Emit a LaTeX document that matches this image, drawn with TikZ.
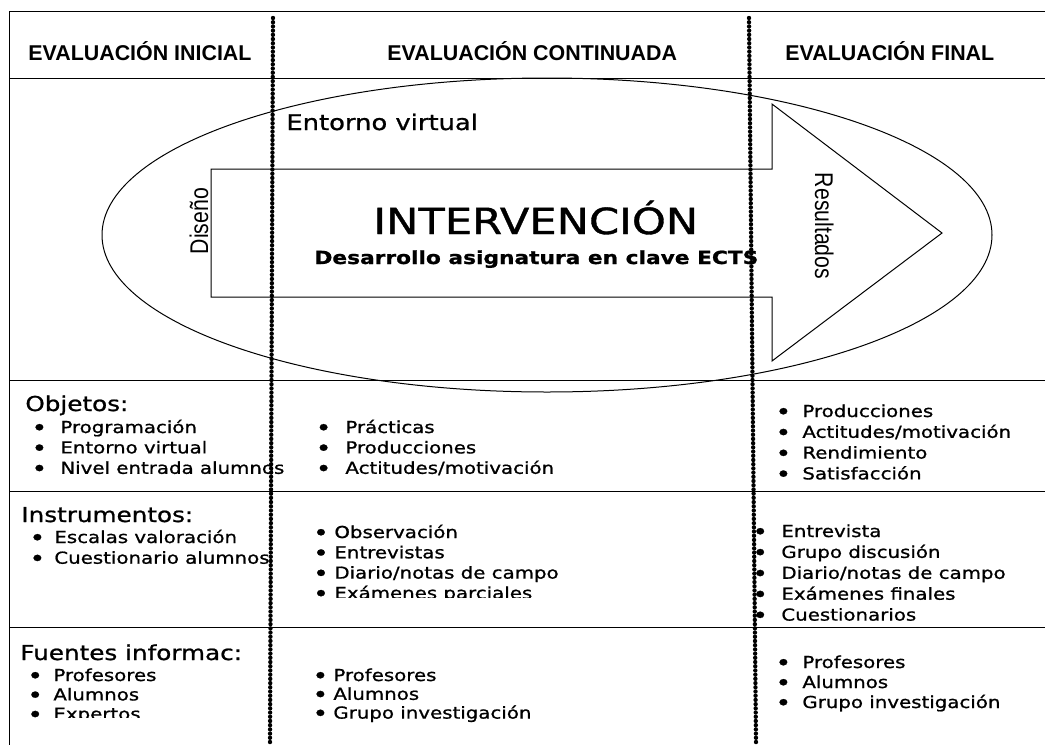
\documentclass[tikz,border=0pt]{standalone}
\usepackage{fontspec}
\setmainfont{DejaVu Sans}
\newfontfamily\vfont[FakeStretch=1.2, FakeBold=1]{DejaVu Sans}
\newfontfamily\hfont{Liberation Sans}
\newfontfamily\rfont[FakeStretch=0.83]{Liberation Sans}
\newcommand\bul[1]{\llap{\raisebox{-1.2pt}{\fontsize{11}{11}\selectfont\textbullet}\hspace{#1}}}
\usetikzlibrary{%
  positioning
}
\tikzset{
  rule/.style = {line width = 0.5pt},
  head/.style = {anchor = base west, inner sep = 0, font = \hfont\bfseries\fontsize{10.7}{13}\selectfont},
  title/.style = {anchor = base west, inner sep = 0, font = \vfont\fontsize{10.27}{12}\selectfont},
  item/.style = {anchor = base west, inner sep = 0, font = \vfont\fontsize{8.24}{10}\selectfont},
  side/.style = {anchor = base, inner sep = 0, font = \rfont\fontsize{12.8}{15}\selectfont}
}

\begin{document}
\begin{tikzpicture}[x = 0.5pt, y = -0.5pt]
  \useasboundingbox (0,0) rectangle (1045,745);

  % table rules
  \draw[rule] (1045,11) -- (9,11) -- (9,745);
  \foreach \y in {78,380,491,627}
    \draw[rule] (9,\y) -- (1045,\y);

  \node[head] (ini) at (28,60) {EVALUACIÓN INICIAL};
  \node[head] (cont) at (387,60) {EVALUACIÓN CONTINUADA};
  \node[head] (fin) at (785,60) {EVALUACIÓN FINAL};

  % entorno + arrow
  \draw[rule] (547,235) ellipse [x radius = 445, y radius = 157];
  \draw[rule] (211,169) -- (772,169) -- (772,104) -- (942,233)
    -- (772,361) -- (772,297) -- (211,297) -- cycle;
  \node[anchor = base west, inner sep = 0, font = \vfont\fontsize{10.75}{13}\selectfont]
    (entorno) at (286,130) {Entorno virtual};
  \node[anchor = base west, inner sep = 0, font = \vfont\fontsize{18}{22}\selectfont]
    (interv) at (373,234) {INTERVENCIÓN};
  \node[anchor = base west, inner sep = 0, font = \vfont\bfseries\fontsize{9.05}{11}\selectfont]
    (ects) at (314,264) {Desarrollo asignatura en clave ECTS};
  \node[side, rotate = 90] (diseno) at (208,221) {Diseño};
  \node[side, rotate = -90] (result) at (815,226) {Resultados};

  % objetos
  \node[title] (obj) at (25,411) {Objetos:};
  \foreach \t [count=\i from 0] in {Programación, Entorno virtual, Nivel entrada alumnos}
    \node[item] (obj-ini-\i) at (60,433+20.4*\i) {\bul{6.6pt}\t};
  \foreach \t [count=\i from 0] in {Prácticas, Producciones, Actitudes/motivación}
    \node[item] (obj-cont-\i) at (345,433+20.4*\i) {\bul{7pt}\t};
  \foreach \t [count=\i from 0] in {Producciones, Actitudes/motivación, Rendimiento, Satisfacción}
    \node[item] (obj-fin-\i) at (802,417+20.8*\i) {\bul{5.6pt}\t};

  % instrumentos
  \node[title] (ins) at (21,522) {Instrumentos:};
  \foreach \t [count=\i from 0] in {Escalas valoración, Cuestionario alumnos}
    \node[item] (ins-ini-\i) at (54,543+20.7*\i) {\bul{4.6pt}\t};
  \begin{scope}
    \clip (280,492) rectangle (745,597);
    \foreach \t [count=\i from 0] in {Observación, Entrevistas, Diario/notas de campo, Exámenes parciales}
      \node[item] (ins-cont-\i) at (334,538+20.3*\i) {\bul{2.8pt}\t};
  \end{scope}
  \begin{scope}
    \clip (752,492) rectangle (1045,621);
    \foreach \t [count=\i from 0] in {Entrevista, Grupo discusión, Diario/notas de campo, Exámenes finales, Cuestionarios}
      \node[item] (ins-fin-\i) at (781,537+20.9*\i) {\bul{6.7pt}\t};
  \end{scope}

  % fuentes
  \node[title] (fue) at (20,660) {Fuentes informac:};
  \begin{scope}
    \clip (10,628) rectangle (268,717);
    \foreach \t [count=\i from 0] in {Profesores, Alumnos, Expertos}
      \node[item] (fue-ini-\i) at (53,681+19.4*\i) {\bul{5.2pt}\t};
  \end{scope}
  \foreach \t [count=\i from 0] in {Profesores, Alumnos, Grupo investigación}
    \node[item] (fue-cont-\i) at (333,681+18.8*\i) {\bul{2.6pt}\t};
  \foreach \t [count=\i from 0] in {Profesores, Alumnos, Grupo investigación}
    \node[item] (fue-fin-\i) at (802,668+20*\i) {\bul{5.6pt}\t};

  % phase limits, dotted
  \foreach \k in {0,...,172} {
    \fill (273-0.01744*\k,18+4.2093*\k) circle [radius = 1.1pt];
    \fill (749+0.0407*\k,18+4.2093*\k) circle [radius = 1.1pt];
  }
\end{tikzpicture}
\end{document}
